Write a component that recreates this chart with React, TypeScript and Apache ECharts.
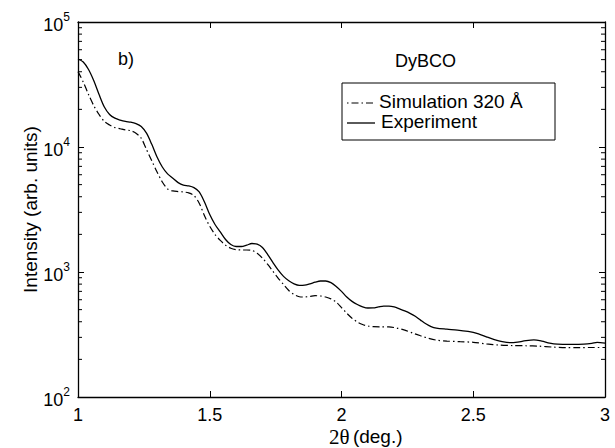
import React, { useEffect, useRef } from "react";
import * as echarts from "echarts";

const expX = [1.0, 1.02, 1.04, 1.06, 1.08, 1.1, 1.12, 1.14, 1.16, 1.18, 1.2, 1.22, 1.24, 1.26, 1.28, 1.3, 1.32, 1.34, 1.36, 1.38, 1.4, 1.42, 1.44, 1.46, 1.48, 1.5, 1.52, 1.54, 1.56, 1.58, 1.6, 1.62, 1.64, 1.66, 1.68, 1.7, 1.72, 1.74, 1.76, 1.78, 1.8, 1.82, 1.84, 1.86, 1.88, 1.9, 1.92, 1.94, 1.96, 1.98, 2.0, 2.02, 2.04, 2.06, 2.08, 2.1, 2.12, 2.14, 2.16, 2.18, 2.2, 2.22, 2.24, 2.26, 2.28, 2.3, 2.32, 2.34, 2.36, 2.4, 2.44, 2.48, 2.5, 2.52, 2.55, 2.58, 2.61, 2.64, 2.66, 2.7, 2.73, 2.76, 2.79, 2.82, 2.87, 2.92, 2.95, 2.97, 3.0];
const expY = [50600, 47900, 41700, 33900, 26300, 20900, 18200, 17000, 16400, 16000, 15800, 15400, 14600, 12900, 10500, 8320, 6920, 6100, 5620, 5190, 4950, 4880, 4730, 4370, 3630, 2880, 2400, 2090, 1820, 1660, 1600, 1600, 1640, 1690, 1670, 1570, 1380, 1190, 1035, 923, 851, 804, 782, 785, 804, 828, 847, 847, 822, 767, 700, 631, 582, 550, 527, 515, 516, 525, 533, 533, 525, 507, 488, 467, 442, 412, 385, 366, 356, 349, 343, 335, 329, 320, 303, 288, 277, 272, 273, 282, 286, 280, 270, 265, 264, 265, 269, 274, 270];

const simX = [1.0, 1.02, 1.04, 1.06, 1.08, 1.1, 1.12, 1.14, 1.16, 1.18, 1.2, 1.22, 1.24, 1.26, 1.28, 1.3, 1.32, 1.34, 1.36, 1.38, 1.4, 1.42, 1.44, 1.46, 1.48, 1.5, 1.52, 1.54, 1.56, 1.58, 1.6, 1.62, 1.64, 1.66, 1.68, 1.7, 1.72, 1.74, 1.76, 1.78, 1.8, 1.82, 1.84, 1.86, 1.88, 1.9, 1.92, 1.94, 1.96, 1.98, 2.0, 2.02, 2.04, 2.06, 2.08, 2.1, 2.12, 2.15, 2.18, 2.21, 2.24, 2.27, 2.3, 2.33, 2.36, 2.4, 2.45, 2.5, 2.55, 2.6, 2.65, 2.7, 2.75, 2.8, 2.85, 2.9, 2.95, 3.0];
const simY = [40100, 33100, 26300, 21400, 18200, 16000, 15000, 14300, 14000, 13700, 13500, 12900, 11750, 9550, 7760, 6310, 5250, 4620, 4450, 4400, 4370, 4290, 4090, 3550, 2820, 2320, 1995, 1790, 1640, 1550, 1510, 1500, 1500, 1490, 1410, 1290, 1150, 1012, 891, 794, 711, 661, 634, 631, 638, 646, 643, 631, 610, 575, 519, 468, 427, 398, 380, 370, 365, 364, 364, 356, 343, 325, 309, 295, 285, 280, 277, 274, 266, 260, 258, 257, 255, 251, 248, 248, 249, 249];

const xTicks = [1, 1.5, 2, 2.5, 3];
const minorTickValues = [200, 300, 400, 500, 600, 700, 800, 900, 2000, 3000, 4000, 5000, 6000, 7000, 8000, 9000, 20000, 30000, 40000, 50000, 60000, 70000, 80000, 90000];

const legendLabels = ["Simulation 320 Å", "Experiment"];
const sampleLabel = "DyBCO";
const panelLabel = "b)";

const FONT = "'Liberation Sans', Arial, sans-serif";

export default function App() {
  const ref = useRef<HTMLDivElement>(null);
  useEffect(() => {
    if (!ref.current) return;
    const chart = echarts.init(ref.current, null, { renderer: "svg" });
    const axisLine = { show: true, lineStyle: { color: "#000", width: 1.3 } };
    const yLabel = (v: number) => `{b|10}{s|${Math.round(Math.log10(v))}}`;
    chart.setOption({
      animation: false,
      backgroundColor: "#fff",
      textStyle: { fontFamily: FONT },
      grid: { left: 78, right: 10, top: 22, bottom: 51, containLabel: false },
      xAxis: [
        {
          type: "value",
          min: 1,
          max: 3,
          interval: 0.5,
          axisLine,
          axisTick: { inside: true, length: 6, lineStyle: { color: "#000", width: 1 } },
          axisLabel: {
            color: "#000",
            fontSize: 18,
            fontFamily: FONT,
            margin: 9,
            customValues: xTicks,
            formatter: (v: number) => String(v),
          },
          splitLine: { show: false },
        },
        {
          type: "value",
          position: "top",
          min: 1,
          max: 3,
          interval: 0.5,
          axisLine,
          axisTick: { inside: true, length: 6, lineStyle: { color: "#000", width: 1 } },
          axisLabel: { show: false },
          splitLine: { show: false },
        },
      ],
      yAxis: [
        {
          type: "log",
          logBase: 10,
          min: 100,
          max: 100000,
          axisLine,
          axisTick: { inside: true, length: 6, lineStyle: { color: "#000", width: 1 } },
          axisLabel: {
            color: "#000",
            margin: 8,
            formatter: yLabel,
            rich: {
              b: { fontSize: 18, fontFamily: FONT, color: "#000", lineHeight: 22, padding: [5, 0, 0, 0] },
              s: { fontSize: 12, fontFamily: FONT, color: "#000", lineHeight: 14, verticalAlign: "top" },
            },
          },
          splitLine: { show: false },
          name: "Intensity (arb. units)",
          nameLocation: "middle",
          nameGap: 38,
          nameMoveOverlap: false,
          nameTextStyle: { fontSize: 19, fontFamily: FONT, color: "#000" },
        },
        {
          type: "log",
          logBase: 10,
          min: 100,
          max: 100000,
          position: "right",
          axisLine,
          axisTick: { inside: true, length: 6, lineStyle: { color: "#000", width: 1 } },
          axisLabel: { show: false },
          splitLine: { show: false },
        },
      ],
      series: [
        {
          name: legendLabels[1],
          type: "line",
          data: expX.map((x, i) => [x, expY[i]]),
          smooth: 0.3,
          showSymbol: false,
          lineStyle: { color: "#000", width: 1.3, type: "solid" },
        },
        {
          name: legendLabels[0],
          type: "line",
          data: simX.map((x, i) => [x, simY[i]]),
          smooth: 0.3,
          showSymbol: false,
          lineStyle: { color: "#000", width: 1.2, type: [7, 3, 1.5, 3] },
        },
        {
          type: "custom",
          silent: true,
          data: minorTickValues.map((v) => [1, v]),
          encode: { x: 0, y: 1 },
          renderItem: (params: any, api: any) => {
            const v = api.value(1);
            const p = api.coord([1, v]);
            const q = api.coord([3, v]);
            const st = { stroke: "#000", lineWidth: 1 };
            return {
              type: "group",
              children: [
                { type: "line", shape: { x1: p[0], y1: p[1], x2: p[0] + 4, y2: p[1] }, style: st },
                { type: "line", shape: { x1: q[0] - 4, y1: q[1], x2: q[0], y2: q[1] }, style: st },
              ],
            };
          },
        },
      ],
      graphic: [
        {
          type: "text",
          left: 118,
          top: 50,
          style: { text: panelLabel, font: `18px ${FONT}`, fill: "#000" },
        },
        {
          type: "text",
          left: 395,
          top: 52,
          style: { text: sampleLabel, font: `18px ${FONT}`, fill: "#000" },
        },
        {
          type: "rect",
          shape: { x: 342, y: 83, width: 213, height: 57 },
          style: { fill: "#fff", stroke: "#000", lineWidth: 1 },
        },
        {
          type: "line",
          shape: { x1: 347, y1: 103, x2: 375, y2: 103 },
          style: { stroke: "#000", lineWidth: 1.2, lineDash: [1.5, 3, 7, 3] },
        },
        {
          type: "line",
          shape: { x1: 347, y1: 123, x2: 375, y2: 123 },
          style: { stroke: "#000", lineWidth: 1.3 },
        },
        {
          type: "text",
          left: 379,
          top: 92,
          style: { text: legendLabels[0], font: `19px ${FONT}`, fill: "#000" },
        },
        {
          type: "text",
          left: 381,
          top: 112,
          style: { text: legendLabels[1], font: `19px ${FONT}`, fill: "#000" },
        },
        {
          type: "text",
          left: 329,
          top: 426,
          style: {
            text: "{t|2θ} {a|(deg.)}",
            rich: {
              t: { fontSize: 21, fontFamily: "'Liberation Serif', 'Times New Roman', serif", fill: "#000" },
              a: { fontSize: 19, fontFamily: FONT, fill: "#000" },
            },
          },
        },
      ],
    });
    return () => chart.dispose();
  }, []);
  return (
    <div
      ref={ref}
      style={{ position: "fixed", left: 0, top: 0, width: 615, height: 448 }}
    />
  );
}
